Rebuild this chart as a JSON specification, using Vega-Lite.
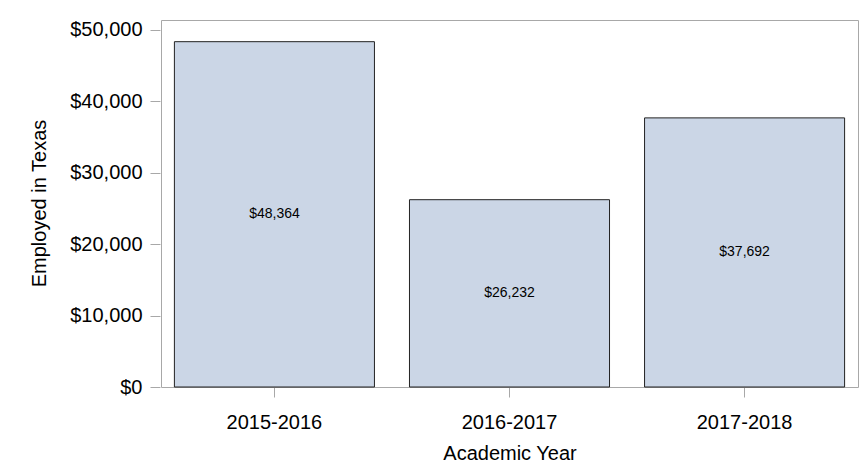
{
  "$schema": "https://vega.github.io/schema/vega-lite/v6.json",
  "autosize": "none",
  "width": 697,
  "height": 367,
  "padding": {"left": 161, "top": 20, "right": 1, "bottom": 89},
  "background": "white",
  "config": {
    "font": "Liberation Sans",
    "view": {"stroke": "#a8a8a8", "strokeWidth": 1},
    "axis": {"grid": false, "domain": false, "tickColor": "#a8a8a8", "tickSize": 10, "labelColor": "#000000", "titleColor": "#000000", "labelFont": "Liberation Sans", "titleFont": "Liberation Sans", "titleFontWeight": "normal"}
  },
  "data": {
    "values": [
      {"year": "2015-2016", "amount": 48364},
      {"year": "2016-2017", "amount": 26232},
      {"year": "2017-2018", "amount": 37692}
    ]
  },
  "encoding": {
    "x": {
      "field": "year", "type": "nominal", "sort": null,
      "scale": {"paddingInner": 0.149, "paddingOuter": 0.057},
      "axis": {"title": "Academic Year", "labelAngle": 0, "labelFontSize": 20, "labelBaseline": "alphabetic", "labelPadding": 31, "titleFontSize": 20, "titleBaseline": "alphabetic", "titleY": 72}
    }
  },
  "layer": [
    {
      "mark": {"type": "bar", "fill": "#cbd6e6", "stroke": "#222222", "strokeWidth": 1},
      "encoding": {
        "y": {
          "field": "amount", "type": "quantitative",
          "scale": {"domain": [0, 51400], "nice": false},
          "axis": {"title": "Employed in Texas", "values": [0, 10000, 20000, 30000, 40000, 50000], "format": "$,.0f", "labelFontSize": 20, "labelPadding": 8, "offset": 1, "titleFontSize": 20, "titleX": -115, "titleY": 183, "titleBaseline": "alphabetic"}
        }
      }
    },
    {
      "transform": [{"calculate": "datum.amount / 2", "as": "mid"}],
      "mark": {"type": "text", "fontSize": 14, "color": "#000000", "baseline": "middle"},
      "encoding": {
        "y": {"field": "mid", "type": "quantitative"},
        "text": {"field": "amount", "type": "quantitative", "format": "$,.0f"}
      }
    }
  ]
}
